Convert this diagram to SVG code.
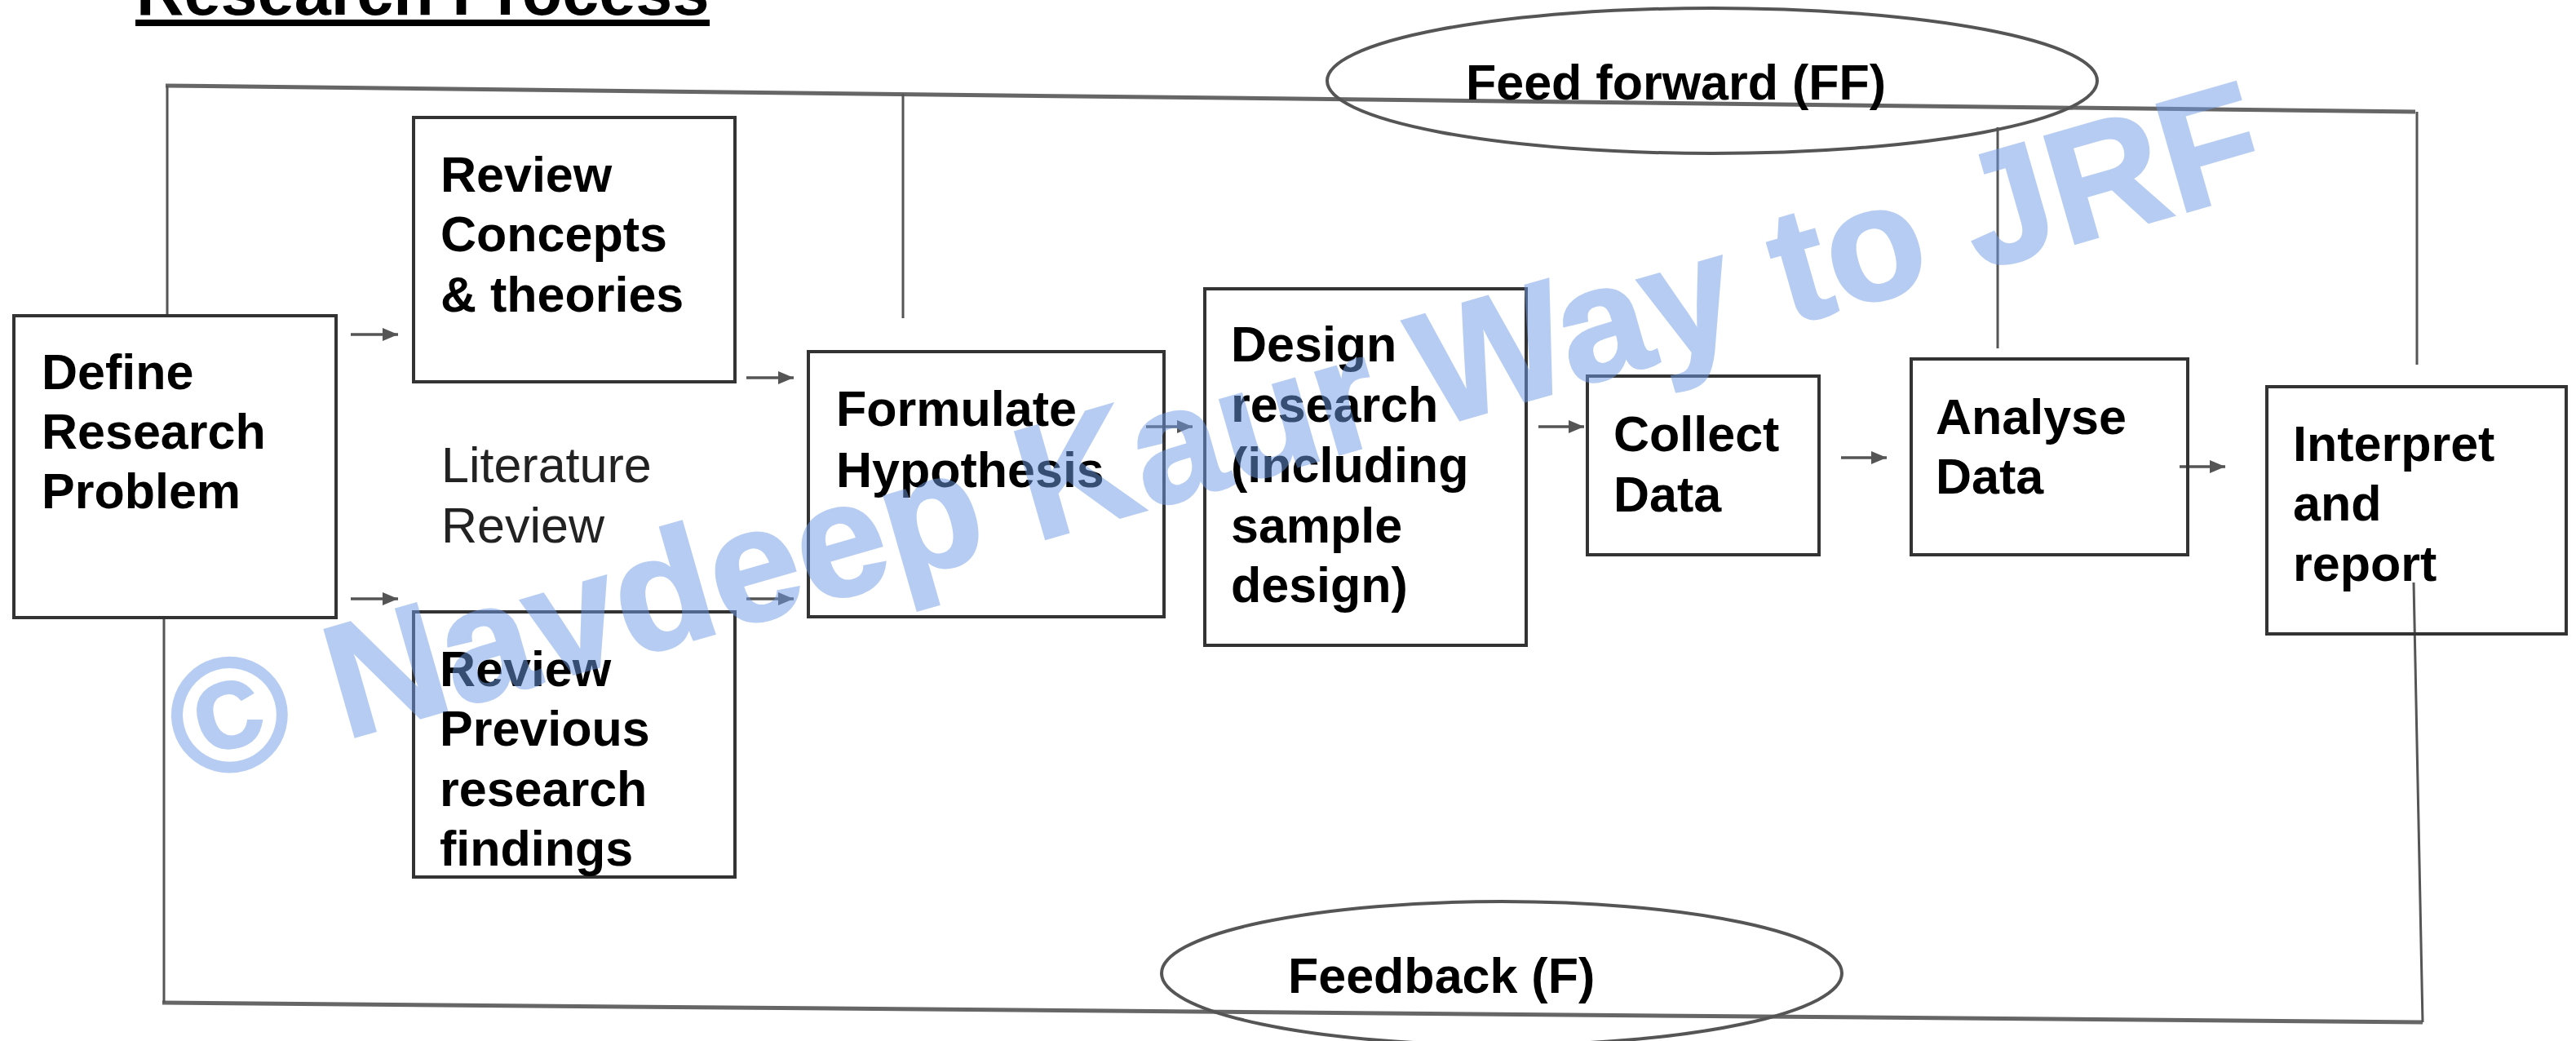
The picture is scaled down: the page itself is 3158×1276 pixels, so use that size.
<svg xmlns="http://www.w3.org/2000/svg" width="3158" height="1276" viewBox="0 0 3158 1276">
<style>
.box{fill:none;stroke:#333;stroke-width:4}
.t{font-family:"Liberation Sans",Arial,sans-serif;font-size:61px;font-weight:bold;fill:#000}
.tn{font-family:"Liberation Sans",Arial,sans-serif;font-size:61px;font-weight:normal;fill:#222}
.ln{fill:none;stroke:#555;stroke-width:3}
.hl{fill:none;stroke:#666;stroke-width:5}
.el{fill:none;stroke:#555;stroke-width:4}
.ar{fill:none;stroke:#555;stroke-width:3.5}
.wm{font-family:"Liberation Sans",Arial,sans-serif;font-size:198px;font-weight:bold;fill:#6f9be6;stroke:#6f9be6;stroke-width:3;opacity:0.5}
</style>
<defs>
<marker id="ah" markerUnits="userSpaceOnUse" markerWidth="20" markerHeight="16" refX="19" refY="8" orient="auto">
<path d="M0,0 L19,8 L0,16 Z" fill="#555"/>
</marker>
</defs>
<rect width="3158" height="1276" fill="#fff"/>
<g id="title">
<text x="167" y="18" class="t" style="font-size:81px">Research Process</text>
<rect x="166" y="24" width="704" height="8" fill="#000"/>
</g>
<g id="connectors">
<line class="hl" x1="203" y1="105" x2="2961" y2="137"/>
<line class="ln" x1="205" y1="105" x2="205" y2="387"/>
<line class="ln" x1="1107" y1="115" x2="1107" y2="390"/>
<line class="ln" x1="2449" y1="156" x2="2449" y2="427"/>
<line class="ln" x1="2963" y1="137" x2="2963" y2="447"/>
<line class="hl" x1="199" y1="1229" x2="2970" y2="1253"/>
<line class="ln" x1="201" y1="757" x2="201" y2="1229"/>
<line class="ln" x1="2959" y1="714" x2="2970" y2="1253"/>
<line class="ar" x1="430" y1="410" x2="488" y2="410" marker-end="url(#ah)"/>
<line class="ar" x1="430" y1="734" x2="488" y2="734" marker-end="url(#ah)"/>
<line class="ar" x1="915" y1="463" x2="973" y2="463" marker-end="url(#ah)"/>
<line class="ar" x1="915" y1="734" x2="973" y2="734" marker-end="url(#ah)"/>
<line class="ar" x1="1405" y1="523" x2="1462" y2="523" marker-end="url(#ah)"/>
<line class="ar" x1="1886" y1="523" x2="1942" y2="523" marker-end="url(#ah)"/>
<line class="ar" x1="2257" y1="561" x2="2313" y2="561" marker-end="url(#ah)"/>
<line class="ar" x1="2672" y1="572" x2="2728" y2="572" marker-end="url(#ah)"/>
</g>
<g id="feed-forward">
<ellipse class="el" cx="2099" cy="99" rx="472" ry="89"/>
<text x="1797" y="122" class="t">Feed forward (FF)</text>
</g>
<g id="feedback">
<ellipse class="el" cx="1841" cy="1193" rx="417" ry="88"/>
<text x="1579" y="1217" class="t">Feedback (F)</text>
</g>
<g id="define">
<rect class="box" x="17" y="387" width="395" height="370"/>
<text class="t"><tspan x="51" y="477">Define</tspan><tspan x="51" y="550">Research</tspan><tspan x="51" y="623">Problem</tspan></text>
</g>
<g id="review-concepts">
<rect class="box" x="507" y="144" width="394" height="324"/>
<text class="t"><tspan x="540" y="235">Review</tspan><tspan x="540" y="308">Concepts</tspan><tspan x="540" y="382">&amp; theories</tspan></text>
</g>
<g id="literature-review">
<text class="tn"><tspan x="541" y="591">Literature</tspan><tspan x="541" y="665">Review</tspan></text>
</g>
<g id="review-previous">
<rect class="box" x="507" y="750" width="394" height="325"/>
<text class="t"><tspan x="539" y="841">Review</tspan><tspan x="539" y="914">Previous</tspan><tspan x="539" y="988">research</tspan><tspan x="539" y="1061">findings</tspan></text>
</g>
<g id="formulate">
<rect class="box" x="991" y="431" width="436" height="325"/>
<text class="t"><tspan x="1025" y="522">Formulate</tspan><tspan x="1025" y="597">Hypothesis</tspan></text>
</g>
<g id="design">
<rect class="box" x="1477" y="354" width="394" height="437"/>
<text class="t"><tspan x="1509" y="443">Design</tspan><tspan x="1509" y="517">research</tspan><tspan x="1509" y="591">(including</tspan><tspan x="1509" y="665">sample</tspan><tspan x="1509" y="738">design)</tspan></text>
</g>
<g id="collect">
<rect class="box" x="1946" y="461" width="284" height="219"/>
<text class="t"><tspan x="1978" y="553">Collect</tspan><tspan x="1978" y="627">Data</tspan></text>
</g>
<g id="analyse">
<rect class="box" x="2343" y="440" width="339" height="240"/>
<text class="t"><tspan x="2373" y="532">Analyse</tspan><tspan x="2373" y="605">Data</tspan></text>
</g>
<g id="interpret">
<rect class="box" x="2779" y="474" width="367" height="303"/>
<text class="t"><tspan x="2811" y="565">Interpret</tspan><tspan x="2811" y="638">and</tspan><tspan x="2811" y="712">report</tspan></text>
</g>
<g id="watermark">
<text class="wm" x="230" y="962" transform="rotate(-16 230 962)">© Navdeep Kaur Way to JRF</text>
</g>
</svg>
